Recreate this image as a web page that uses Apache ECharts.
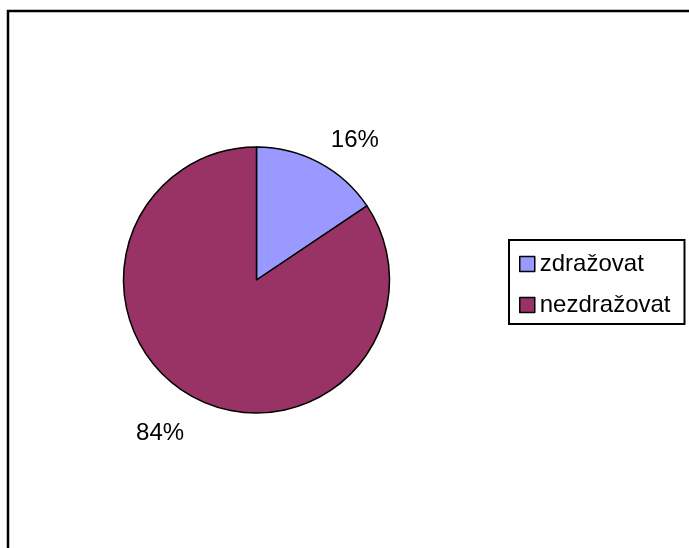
<!DOCTYPE html>
<html>
<head>
<meta charset="utf-8">
<script src="https://cdn.jsdelivr.net/npm/echarts@6/dist/echarts.min.js"></script>
<style>
  html, body { margin: 0; padding: 0; background: #fff; }
  #chart { width: 689px; height: 548px; }
</style>
</head>
<body>
<div id="chart"></div>
<script>
// answers (share of respondents)
const categories = ['zdražovat', 'nezdražovat'];
const values = [15.6, 84.4];
const colors = ['#9999FF', '#993366'];

const chart = echarts.init(document.getElementById('chart'));

chart.setOption({
  animation: false,
  textStyle: { fontFamily: 'Liberation Sans, Arial, sans-serif' },
  graphic: [{
    type: 'rect',
    shape: { x: 8, y: 11, width: 720, height: 600 },
    style: { fill: 'none', stroke: '#000', lineWidth: 2.5 },
    silent: true
  }],
  legend: {
    orient: 'vertical',
    left: 509,
    top: 240,
    padding: [12, 14, 7, 10],
    borderColor: '#000',
    borderWidth: 2,
    itemWidth: 15,
    itemHeight: 15,
    itemGap: 17,
    icon: 'rect',
    itemStyle: { borderColor: '#000', borderWidth: 1.5 },
    textStyle: { fontSize: 24, color: '#000' },
    data: categories
  },
  series: [{
    type: 'pie',
    center: [256.5, 280],
    radius: 133,
    startAngle: 90,
    clockwise: true,
    color: colors,
    itemStyle: { borderColor: '#000', borderWidth: 1.5 },
    emphasis: { disabled: true },
    label: {
      show: true,
      position: 'outside',
      fontSize: 24,
      color: '#000',
      formatter: p => Math.round(p.percent) + '%'
    },
    labelLine: { show: false, length: 25, length2: 0 },
    labelLayout: p => (p.dataIndex === 0 ? { dx: -5, dy: 0 } : { dx: 7, dy: 14 }),
    data: categories.map((name, i) => ({ name, value: values[i] }))
  }]
});
</script>
</body>
</html>
